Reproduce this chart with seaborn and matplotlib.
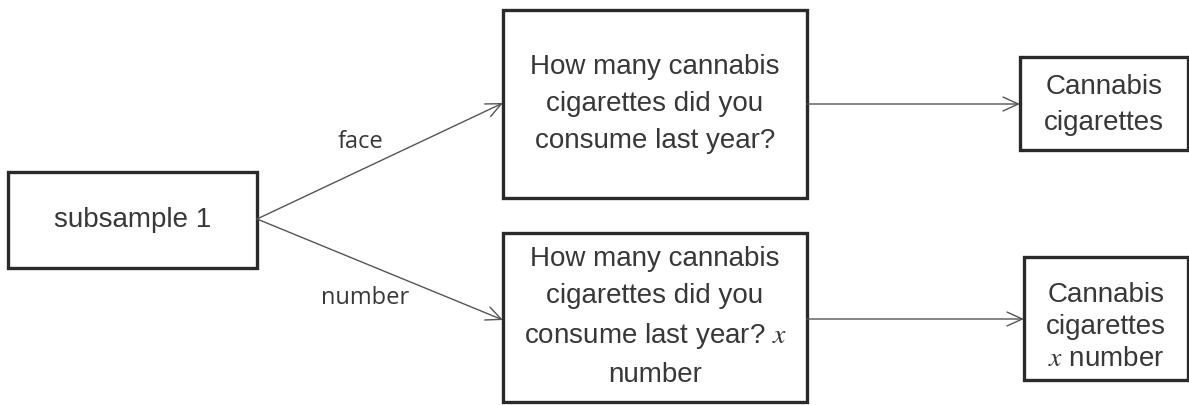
import matplotlib
matplotlib.use("Agg")
import matplotlib.pyplot as plt
import seaborn as sns
from matplotlib.patches import Rectangle, FancyArrowPatch

# ---- content ----
node_labels = [
    "subsample 1",
    "How many cannabis\ncigarettes did you\nconsume last year?",
    "How many cannabis\ncigarettes did you\nconsume last year? $x$\nnumber",
    "Cannabis\ncigarettes",
    "Cannabis\ncigarettes\n$x$ number",
]
edge_labels = ["face", "number"]

# ---- layout (pixel coordinates, y downwards) ----
box_x0 = [8, 503, 503, 1020, 1024]
box_x1 = [257, 807, 807, 1188, 1188]
box_y0 = [172, 10, 233, 57, 257]
box_y1 = [268, 198, 402, 150, 380]
text_y = [220, 104, 317, 105, 327]
line_sp = [1.2, 1.55, 1.55, 1.55, 1.32]

edges = [(0, 1, (257, 219), (503, 103)),
         (0, 2, (257, 219), (503, 320)),
         (1, 3, (807, 104), (1020, 104)),
         (2, 4, (807, 319), (1024, 319))]
edge_label_pos = [(360, 142), (365, 298)]

sns.set_theme(style="white")
plt.rcParams["mathtext.fontset"] = "stix"

fig = plt.figure(figsize=(11.89, 4.05), dpi=100)
ax = fig.add_axes([0, 0, 1, 1])
ax.set_xlim(0, 1189)
ax.set_ylim(405, 0)
ax.axis("off")

text_color = "#383838"
for i, lab in enumerate(node_labels):
    ax.add_patch(Rectangle((box_x0[i], box_y0[i]), box_x1[i] - box_x0[i],
                           box_y1[i] - box_y0[i], fill=False,
                           edgecolor="#2a2a2a", linewidth=2.4))
    ax.text((box_x0[i] + box_x1[i]) / 2, text_y[i], lab, ha="center",
            va="center", fontsize=20, color=text_color,
            family="Liberation Sans", linespacing=line_sp[i],
            multialignment="center")

for (s, t, p0, p1) in edges:
    ax.add_patch(FancyArrowPatch(p0, p1,
                                 arrowstyle="->,head_length=11,head_width=5",
                                 mutation_scale=1, color="#555555",
                                 linewidth=1.0, shrinkA=0, shrinkB=0))

for lab, (x, y) in zip(edge_labels, edge_label_pos):
    ax.text(x, y, lab, ha="center", va="center", fontsize=17,
            color=text_color, family="Open Sans")

fig.savefig("out.png", dpi=100)
